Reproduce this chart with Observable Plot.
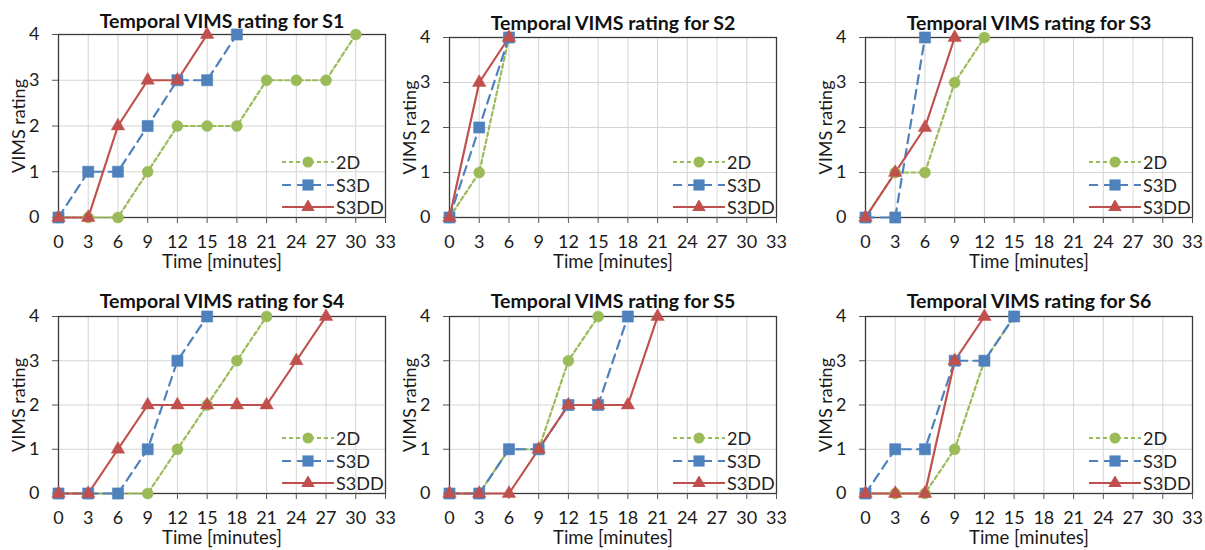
<!DOCTYPE html>
<html><head><meta charset="utf-8">
<script src="https://cdn.jsdelivr.net/npm/d3@7"></script>
<script src="https://cdn.jsdelivr.net/npm/@observablehq/plot@0.6"></script>
<style>
html,body{margin:0;padding:0;background:#fff;}
#root{position:relative;width:1205px;height:550px;overflow:hidden;font-family:Lato,sans-serif;}
.panel{position:absolute;}
.legend{position:absolute;font-size:18px;color:#222;font-family:Lato,sans-serif;}
.legend div{display:flex;align-items:center;height:22.5px;}
</style>
</head><body><div id="root"></div>
<script>
// ---- data ----
const xTicks = [0,3,6,9,12,15,18,21,24,27,30,33];
const yTicks = [0,1,2,3,4];
const times = [0,3,6,9,12,15,18,21,24,27,30];
const subjects = ["S1","S2","S3","S4","S5","S6"];
const seriesNames = ["2D","S3D","S3DD"];
const seriesColors = ["#9BBB59","#4F81BD","#C0504D"];

const S1_2D   = [0,0,0,1,2,2,2,3,3,3,4];
const S1_S3D  = [0,1,1,2,3,3,4];
const S1_S3DD = [0,0,2,3,3,4];

const S2_2D   = [0,1,4];
const S2_S3D  = [0,2,4];
const S2_S3DD = [0,3,4];

const S3_2D   = [0,1,1,3,4];
const S3_S3D  = [0,0,4];
const S3_S3DD = [0,1,2,4];

const S4_2D   = [0,0,0,0,1,2,3,4];
const S4_S3D  = [0,0,0,1,3,4];
const S4_S3DD = [0,0,1,2,2,2,2,2,3,4];

const S5_2D   = [0,0,1,1,3,4];
const S5_S3D  = [0,0,1,1,2,2,4];
const S5_S3DD = [0,0,0,1,2,2,2,4];

const S6_2D   = [0,0,0,1,3,4];
const S6_S3D  = [0,1,1,3,3,4];
const S6_S3DD = [0,0,0,3,4];

const panelData = {
  S1:[S1_2D,S1_S3D,S1_S3DD], S2:[S2_2D,S2_S3D,S2_S3DD], S3:[S3_2D,S3_S3D,S3_S3DD],
  S4:[S4_2D,S4_S3D,S4_S3DD], S5:[S5_2D,S5_S3D,S5_S3DD], S6:[S6_2D,S6_S3D,S6_S3DD]
};

// ---- styling / layout ----
const dashes = ["4,3","9,6",null];
const symbols = ["circle","square","triangle"];
const radii = [5.5,6.3,5];
const frames = [[58,34],[449,37],[865,37],[58,316],[449,316],[865,316]];
const plotHs = [183,180,180,177,177,177];
const titleDy = [-12.5,-14,-14,-14.5,-14.5,-14.5];
const mL=50, mR=10, mT=35, mB=50, plotW=327;
const font = "Lato,sans-serif";

const root = document.getElementById("root");

subjects.forEach((s,pi)=>{
  const plotH = plotHs[pi];
  const rows = [];
  panelData[s].forEach((vals,si)=>vals.forEach((v,i)=>rows.push({series:seriesNames[si],t:times[i],v})));
  const marks = [
    Plot.gridX(xTicks,{stroke:"#d4d4d4",strokeOpacity:1}),
    Plot.gridY(yTicks,{stroke:"#d4d4d4",strokeOpacity:1}),
    Plot.frame({stroke:"#3a3a3a",strokeWidth:1.3}),
    Plot.axisX(xTicks,{tickSize:6,stroke:"#555",tickPadding:12,fontSize:18,fill:"#1a1a1a",label:null}),
    Plot.axisY(yTicks,{tickSize:6,stroke:"#555",tickPadding:13,fontSize:18,fill:"#1a1a1a",label:null}),
    Plot.text(["Time [minutes]"],{frameAnchor:"bottom",lineAnchor:"middle",textAnchor:"middle",dy:45,fontSize:18.5,fill:"#1a1a1a"}),
    Plot.text(["VIMS rating"],{frameAnchor:"left",lineAnchor:"middle",textAnchor:"middle",dx:-39,rotate:-90,fontSize:18,fill:"#1a1a1a"}),
    Plot.text([`Temporal VIMS rating for ${s}`],{frameAnchor:"top",lineAnchor:"middle",textAnchor:"middle",dy:titleDy[pi],fontSize:19.5,fontWeight:"bold",fill:"#111"})
  ];
  seriesNames.forEach((n,si)=>{
    const d = rows.filter(r=>r.series===n);
    marks.push(Plot.line(d,{x:"t",y:"v",stroke:seriesColors[si],strokeWidth:2.2,strokeDasharray:dashes[si]}));
  });
  seriesNames.forEach((n,si)=>{
    const d = rows.filter(r=>r.series===n);
    marks.push(Plot.dot(d,{x:"t",y:"v",symbol:symbols[si],r:radii[si],fill:seriesColors[si],stroke:seriesColors[si],strokeWidth:0.5}));
  });
  const svg = Plot.plot({
    width:mL+plotW+mR, height:mT+plotH+mB,
    marginLeft:mL, marginRight:mR, marginTop:mT, marginBottom:mB,
    style:{fontFamily:font,background:"transparent",overflow:"visible"},
    x:{domain:[0,33]}, y:{domain:[0,4]},
    marks
  });
  const wrap = document.createElement("div");
  wrap.className="panel";
  wrap.style.left=(frames[pi][0]-mL)+"px";
  wrap.style.top=(frames[pi][1]-mT)+"px";
  wrap.appendChild(svg);
  root.appendChild(wrap);

  // legend
  const lg = document.createElement("div");
  lg.className="legend";
  lg.style.left=(frames[pi][0]+plotW-103)+"px";
  lg.style.top=(frames[pi][1]+plotH-66)+"px";
  seriesNames.forEach((n,si)=>{
    const row=document.createElement("div");
    const sym = d3.symbol(si===0?d3.symbolCircle:si===1?d3.symbolSquare:d3.symbolTriangle, Math.PI*radii[si]*radii[si])();
    row.innerHTML=`<svg width="52" height="14" style="margin-right:2px"><line x1="0" y1="7" x2="52" y2="7" stroke="${seriesColors[si]}" stroke-width="2.2" ${dashes[si]?`stroke-dasharray="${dashes[si]}"`:""}/><path d="${sym}" transform="translate(26,7)" fill="${seriesColors[si]}"/></svg><span>${n}</span>`;
    lg.appendChild(row);
  });
  root.appendChild(lg);
});
</script></body></html>
